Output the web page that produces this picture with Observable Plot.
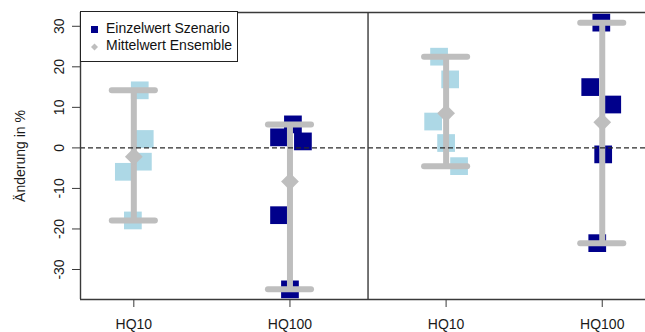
<!DOCTYPE html>
<html><head><meta charset="utf-8">
<script src="https://cdn.jsdelivr.net/npm/d3@7"></script>
<script src="https://cdn.jsdelivr.net/npm/@observablehq/plot@0.6"></script>
<style>
body{margin:0;background:#fff;font-family:"Liberation Sans",Arial,sans-serif;}
#wrap{position:relative;width:645px;height:332px;}
#legend{position:absolute;left:80px;top:11px;width:158px;height:51px;border:1.4px solid #222;background:#fff;box-sizing:border-box;font-size:14px;color:#111;}
#legend .row{position:absolute;left:0;white-space:nowrap;}
</style></head><body><div id="wrap"></div>
<script>
// categories (x positions 1..4; left panel, right panel)
const categories = ["HQ10", "HQ100", "HQ10", "HQ100"];
// single scenario values (%) per category
const hq10Left   = [14.2, 2.2, -3.4, -5.9, -17.9];
const hq100Left  = [5.8, 2.6, 1.6, -16.6, -34.9];
const hq10Right  = [22.5, 16.9, 6.5, 1.2, -4.5];
const hq100Right = [30.9, 15.0, 10.7, -1.6, -23.5];
// horizontal jitter of the single values (in category units)
const jitterHq10Left   = [0.038, 0.07, 0.058, -0.064, -0.006];
const jitterHq100Left  = [0.019, -0.07, 0.083, -0.07, 0.0];
const jitterHq10Right  = [-0.045, 0.026, -0.083, 0.0, 0.083];
const jitterHq100Right = [-0.006, -0.077, 0.064, 0.006, -0.032];
const yTicks = [-30, -20, -10, 0, 10, 20, 30];
const legendLabels = ["Einzelwert Szenario", "Mittelwert Ensemble"];

const valueSets = [hq10Left, hq100Left, hq10Right, hq100Right];
const jitterSets = [jitterHq10Left, jitterHq100Left, jitterHq10Right, jitterHq100Right];

const rows = [];
valueSets.forEach((vals, i) => vals.forEach((v, j) => rows.push({pos: i + 1, cat: categories[i], value: v, jit: jitterSets[i][j]})));
const summary = valueSets.map((vals, i) => ({pos: i + 1, min: d3.min(vals), max: d3.max(vals), mean: d3.mean(vals)}));

const xDomain = [0.6585, 4.277];
const yDomain = [-37.4, 33.4];
const cap = 0.138;
const gray = "#BEBEBE";
const frameColor = "#3a3a3a";

const chart = Plot.plot({
  width: 645, height: 332,
  marginLeft: 80, marginRight: 0, marginTop: 12, marginBottom: 33,
  style: {fontFamily: "'Liberation Sans', Arial, sans-serif", fontSize: "14px", background: "#fff", color: "#1a1a1a"},
  x: {domain: xDomain, axis: null},
  y: {domain: yDomain, axis: null},
  color: {domain: ["HQ10", "HQ100"], range: ["#ADD8E6", "#00008B"]},
  marks: [
    Plot.dot(rows, {x: d => d.pos + d.jit, y: "value", symbol: "square", r: 10, fill: "cat", clip: true}),
    Plot.ruleX(summary, {x: "pos", y1: "min", y2: "max", stroke: gray, strokeWidth: 6}),
    Plot.ruleY(summary, {y: "max", x1: d => d.pos - cap, x2: d => d.pos + cap, stroke: gray, strokeWidth: 6, strokeLinecap: "round"}),
    Plot.ruleY(summary, {y: "min", x1: d => d.pos - cap, x2: d => d.pos + cap, stroke: gray, strokeWidth: 6, strokeLinecap: "round"}),
    Plot.dot(summary, {x: "pos", y: "mean", symbol: "diamond2", r: 8, fill: gray}),
    Plot.ruleY([0], {stroke: "#2a2a2a", strokeWidth: 1.4, strokeDasharray: "5,3"}),
    Plot.ruleX([(2 + 3) / 2], {stroke: frameColor, strokeWidth: 1.4}),
    Plot.ruleX([xDomain[0]], {stroke: frameColor, strokeWidth: 1.4}),
    Plot.ruleY(yDomain, {stroke: frameColor, strokeWidth: 1.4}),
    Plot.axisY({ticks: yTicks, tickSize: 8, tickRotate: -90, tickPadding: 9, tickFormat: d => String(d), label: null, stroke: frameColor}),
    Plot.axisX({ticks: [1, 2, 3, 4], tickSize: 8, tickPadding: 12, tickFormat: d => categories[d - 1], label: null, stroke: frameColor}),
    Plot.text(["Änderung in %"], {frameAnchor: "left", textAnchor: "middle", rotate: -90, dx: -60, fontSize: 14, fill: "#1a1a1a"})
  ]
});

const wrap = document.getElementById("wrap");
wrap.appendChild(chart);

const legend = document.createElement("div");
legend.id = "legend";
legend.innerHTML =
  `<svg width="20" height="48" style="position:absolute;left:0;top:0">
     <rect x="10" y="14" width="7" height="7" fill="#00008B"/>
     <path d="M13.5 31.5 L17 35 L13.5 38.5 L10 35 Z" fill="${gray}"/>
   </svg>
   <div class="row" style="left:25px;top:8px">${legendLabels[0]}</div>
   <div class="row" style="left:25px;top:25px">${legendLabels[1]}</div>`;
wrap.appendChild(legend);
</script>
</body></html>
